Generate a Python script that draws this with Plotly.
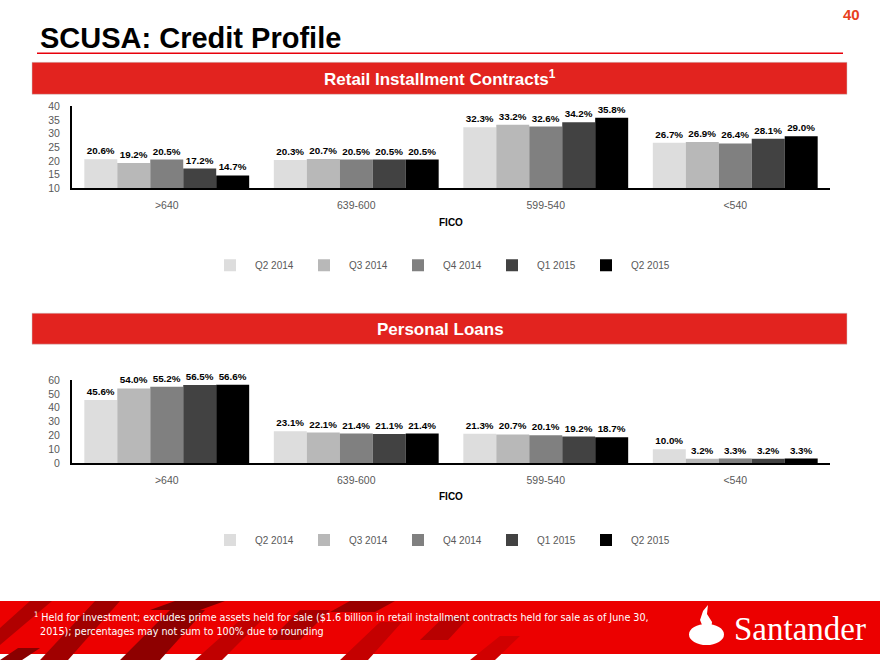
import plotly.graph_objects as go

QUARTERS = ['Q2 2014', 'Q3 2014', 'Q4 2014', 'Q1 2015', 'Q2 2015']
FICO_BANDS = ['>640', '639-600', '599-540', '<540']
COLORS = ['#DDDDDD', '#B8B8B8', '#808080', '#424242', '#000000']

# retail installment contracts, % by FICO band, one list per quarter
ric_q2_2014 = [20.6, 20.3, 32.3, 26.7]
ric_q3_2014 = [19.2, 20.7, 33.2, 26.9]
ric_q4_2014 = [20.5, 20.5, 32.6, 26.4]
ric_q1_2015 = [17.2, 20.5, 34.2, 28.1]
ric_q2_2015 = [14.7, 20.5, 35.8, 29.0]

# personal loans, % by FICO band
pl_q2_2014 = [45.6, 23.1, 21.3, 10.0]
pl_q3_2014 = [54.0, 22.1, 20.7, 3.2]
pl_q4_2014 = [55.2, 21.4, 20.1, 3.3]
pl_q1_2015 = [56.5, 21.1, 19.2, 3.2]
pl_q2_2015 = [56.6, 21.4, 18.7, 3.3]

ric = [ric_q2_2014, ric_q3_2014, ric_q4_2014, ric_q1_2015, ric_q2_2015]
pl = [pl_q2_2014, pl_q3_2014, pl_q4_2014, pl_q1_2015, pl_q2_2015]

W, H = 880, 660
RED = '#E2231F'
FOOT_RED = '#EC0000'
GREY = '#595959'
SANS = 'Liberation Sans, Arial, sans-serif'
NARROW = 'Liberation Sans Narrow, Arial Narrow, DejaVu Sans Condensed, sans-serif'

# the photographed page comes out slightly squeezed vertically; these undo it
Y_OFF, Y_SCALE = 5.66, 0.9823


def px(x):
    return x / W


def py(y):
    return 1 - (y - Y_OFF) / Y_SCALE / H


def poly(pts):
    return 'M ' + ' L '.join(f'{px(x):.4f},{py(y):.4f}' for x, y in pts) + ' Z'


fig = go.Figure()

for data, xa, ya, leg in [(ric, 'x', 'y', 'legend'), (pl, 'x2', 'y2', 'legend2')]:
    for i, q in enumerate(QUARTERS):
        # visible bars (clipped to the plot area)
        fig.add_trace(go.Bar(
            x=FICO_BANDS, y=data[i], name=q, xaxis=xa, yaxis=ya,
            offsetgroup=str(i), marker=dict(color=COLORS[i], line=dict(width=0)),
            legend=leg, hoverinfo='skip'))
        # transparent twin carrying the labels, so text can sit above the axis top
        fig.add_trace(go.Bar(
            x=FICO_BANDS, y=data[i], xaxis=xa, yaxis=ya, offsetgroup=str(i),
            marker=dict(color='rgba(0,0,0,0)', line=dict(width=0)),
            text=[f'{v:.1f}%' for v in data[i]], textposition='outside',
            textfont=dict(family=SANS, size=9.8, color='black', weight='bold'),
            constraintext='none', cliponaxis=False, showlegend=False, hoverinfo='skip'))

xdom = [px(72), px(830)]
axis_common = dict(showgrid=False, zeroline=False, showline=True, linecolor='black',
                   linewidth=2, ticks='', tickfont=dict(family=SANS, size=10.5, color=GREY))
legend_common = dict(orientation='h', xanchor='left', yanchor='middle', itemwidth=40,
                     font=dict(family=SANS, size=10, color=GREY), entrywidth=39,
                     entrywidthmode='pixels', traceorder='normal', bgcolor='rgba(0,0,0,0)')

fig.update_layout(
    width=W, height=H, margin=dict(l=0, r=0, t=0, b=0),
    paper_bgcolor='white', plot_bgcolor='white',
    barmode='group', bargap=0.13, bargroupgap=0,
    hovermode=False, showlegend=True,
    xaxis=dict(domain=xdom, anchor='y', ticklabelstandoff=6, **axis_common),
    yaxis=dict(domain=[py(188), py(106)], range=[10, 40], dtick=5, anchor='x',
               ticklabelstandoff=8, **axis_common),
    xaxis2=dict(domain=xdom, anchor='y2', ticklabelstandoff=6, **axis_common),
    yaxis2=dict(domain=[py(463), py(380)], range=[0, 60], dtick=10, anchor='x2',
                ticklabelstandoff=8, **axis_common),
    legend=dict(x=px(205), y=py(265), **legend_common),
    legend2=dict(x=px(205), y=py(540), **legend_common),
)

shapes = [
    # title underline
    dict(type='line', x0=px(37), x1=px(843), y0=py(53), y1=py(53),
         line=dict(color='#E8000B', width=1.5)),
    # section banners
    dict(type='rect', x0=px(32), x1=px(847), y0=py(94), y1=py(62),
         fillcolor=RED, line=dict(color='#C8C8C8', width=0.5)),
    dict(type='rect', x0=px(32), x1=px(847), y0=py(344), y1=py(313),
         fillcolor=RED, line=dict(color='#C8C8C8', width=0.5)),
    # footer band
    dict(type='rect', x0=0, x1=1, y0=0, y1=py(601), fillcolor=FOOT_RED, line=dict(width=0)),
]
# decorative stripes of the footer band
stripes = [
    ([(0, 628), (30, 601), (52, 601), (0, 645)], '#B00000'),
    ([(40, 660), (95, 601), (120, 601), (68, 660)], '#A00000'),
    ([(120, 660), (170, 610), (205, 610), (160, 660)], '#8E0000'),
    ([(195, 660), (240, 620), (262, 620), (222, 660)], '#C00000'),
    ([(150, 610), (175, 601), (225, 601), (200, 610)], '#7A0000'),
    ([(270, 640), (300, 610), (330, 610), (300, 640)], '#A80000'),
    ([(340, 660), (380, 622), (402, 622), (368, 660)], '#C40000'),
    ([(330, 612), (350, 601), (395, 601), (375, 612)], '#9A0000'),
    ([(420, 640), (445, 616), (470, 616), (448, 640)], '#B80000'),
    ([(470, 660), (500, 636), (520, 636), (495, 660)], '#D00000'),
    ([(0, 660), (18, 648), (40, 648), (22, 660)], '#8A0000'),
]
for pts, col in stripes:
    shapes.append(dict(type='path', path=poly(pts), fillcolor=col, line=dict(width=0)))
# Santander flame
shapes.append(dict(type='circle', x0=px(689), x1=px(724), y0=py(645), y1=py(624),
                   fillcolor='white', line=dict(width=0)))
shapes.append(dict(type='path', fillcolor='white', line=dict(width=0),
                   path=poly([(704, 630), (700, 620), (703, 611), (708, 605), (707, 614),
                              (712, 622), (711, 630)])))
for s in shapes:
    s.update(xref='paper', yref='paper')
fig.update_layout(shapes=shapes)

annotations = [
    dict(text='SCUSA: Credit Profile', x=px(38), y=py(38), xanchor='left', yanchor='middle',
         showarrow=False, font=dict(family=SANS, size=29, color='black', weight='bold')),
    dict(text='40', x=px(862), y=py(14), xanchor='right', yanchor='middle', showarrow=False,
         font=dict(family=SANS, size=15, color='#E8401C', weight='bold')),
    dict(text='Retail Installment Contracts<sup>1</sup>', x=px(440), y=py(78),
         xanchor='center', yanchor='middle', showarrow=False,
         font=dict(family=SANS, size=17, color='white', weight='bold')),
    dict(text='Personal Loans', x=px(440), y=py(329), xanchor='center', yanchor='middle',
         showarrow=False, font=dict(family=SANS, size=17, color='white', weight='bold')),
    dict(text='FICO', x=px(451), y=py(222), xanchor='center', yanchor='middle', showarrow=False,
         font=dict(family=SANS, size=10, color='black', weight='bold')),
    dict(text='FICO', x=px(451), y=py(496), xanchor='center', yanchor='middle', showarrow=False,
         font=dict(family=SANS, size=10, color='black', weight='bold')),
    dict(text='<sup>1</sup> Held for investment; excludes prime assets held for sale '
              '($1.6 billion in retail installment contracts held for sale as of June 30,'
              '<br>  2015); percentages may not sum to 100% due to rounding',
         x=px(32), y=py(624), xanchor='left', yanchor='middle', align='left', showarrow=False,
         font=dict(family=NARROW, size=10.7, color='white')),
    dict(text='Santander', x=px(732), y=py(629), xanchor='left', yanchor='middle',
         showarrow=False, font=dict(family='Liberation Serif, DejaVu Serif, serif', size=33,
                                    color='white')),
]
for a in annotations:
    a.update(xref='paper', yref='paper')
fig.update_layout(annotations=annotations)

# page background: white above, footer red below, for any strip the chart does not cover
page = ("var st = document.createElement('style');"
        "st.textContent = 'html{background:linear-gradient(#fff 0%, #fff 50%, "
        + FOOT_RED + " 50%, " + FOOT_RED + " 100%);min-height:100%;}"
        "body{margin:0;padding:0;}';"
        "document.head.appendChild(st);")
fig.write_html("out.html", config={'displayModeBar': False}, post_script=page)
